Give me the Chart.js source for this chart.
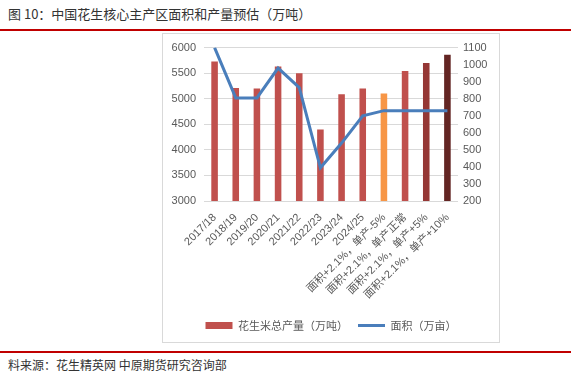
<!DOCTYPE html>
<html>
<head>
<meta charset="utf-8">
<script src="https://cdn.jsdelivr.net/npm/chart.js@4"></script>
<style>
  body { margin: 0; width: 571px; height: 377px; background: #fff; position: relative; overflow: hidden;
         font-family: "Noto Sans CJK SC", sans-serif; }
  .title { position: absolute; left: 8px; top: 4px; font-size: 13px; color: #333; }
  .rule { position: absolute; left: 0; width: 571px; height: 2px; background: #c00000; }
  .source { position: absolute; left: 8px; top: 356px; font-size: 12px; color: #333; }
  .box { position: absolute; left: 162px; top: 33px; width: 338px; height: 310px; border: 1px solid #d9d9d9; box-sizing: border-box; }
  .wrap { position: absolute; left: 162px; top: 33px; width: 338px; height: 310px; }
</style>
</head>
<body>
<div class="title">图 10：中国花生核心主产区面积和产量预估（万吨）</div>
<div class="rule" style="top:29px"></div>
<div class="box"></div>
<div class="wrap"><canvas id="c"></canvas></div>
<div class="rule" style="top:351px"></div>
<div class="source">料来源：花生精英网 中原期货研究咨询部</div>
<script>
// 类别与数据
const categories = ['2017/18', '2018/19', '2019/20', '2020/21', '2021/22', '2022/23', '2023/24', '2024/25',
    '面积+2.1%，单产-5%', '面积+2.1%，单产正常', '面积+2.1%，单产+5%', '面积+2.1%，单产+10%'];
const output = [5730, 5210, 5200, 5630, 5500, 4400, 5090, 5200, 5100, 5540, 5700, 5860];
const area = [1100, 805, 805, 980, 865, 395, 540, 700, 730, 730, 730, 730];
const barColors = ['#c0504d', '#c0504d', '#c0504d', '#c0504d', '#c0504d', '#c0504d', '#c0504d', '#c0504d',
    '#f79646', '#c0504d', '#953735', '#632523'];

const leftTicks = { min: 3000, max: 6000, step: 500 };
const rightTicks = { min: 200, max: 1100, step: 100 };

const tickFont = { family: 'Liberation Sans, Noto Sans CJK SC', size: 11 };
const plain = v => String(v);

new Chart(document.getElementById('c').getContext('2d'), {
    data: {
        labels: categories,
        datasets: [{
            type: 'line',
            label: '面积（万亩）',
            data: area,
            yAxisID: 'y1',
            borderColor: '#4a7ebb',
            backgroundColor: '#4a7ebb',
            borderWidth: 3,
            pointRadius: 0,
            tension: 0,
            pointStyle: 'line',
            order: 0
        }, {
            type: 'bar',
            label: '花生米总产量（万吨）',
            data: output,
            yAxisID: 'y',
            backgroundColor: barColors,
            categoryPercentage: 1,
            barPercentage: 0.31,
            pointStyle: 'rect',
            order: 1
        }]
    },
    options: {
        responsive: true,
        maintainAspectRatio: false,
        animation: false,
        layout: { padding: { top: 14, bottom: 2, left: 0, right: 0 } },
        plugins: {
            tooltip: { enabled: false },
            legend: {
                position: 'bottom',
                reverse: true,
                labels: {
                    usePointStyle: true,
                    pointStyleWidth: 27,
                    boxHeight: 7,
                    padding: 10,
                    color: '#595959',
                    font: { family: 'Noto Sans CJK SC', size: 11 }
                }
            }
        },
        scales: {
            x: {
                grid: { display: false },
                border: { display: false },
                ticks: { color: '#595959', font: tickFont, autoSkip: false, minRotation: 45, maxRotation: 45, padding: 2 },
                afterFit: s => { s.height = 109; }
            },
            y: {
                position: 'left',
                min: leftTicks.min, max: leftTicks.max,
                grid: { color: '#d9d9d9', drawTicks: false },
                border: { display: false },
                ticks: { stepSize: leftTicks.step, color: '#595959', font: tickFont, padding: 8, callback: plain },
                afterFit: s => { s.width = 42; }
            },
            y1: {
                position: 'right',
                min: rightTicks.min, max: rightTicks.max,
                grid: { display: false, drawTicks: false },
                border: { display: false },
                ticks: { stepSize: rightTicks.step, color: '#595959', font: tickFont, padding: 5, callback: plain },
                afterFit: s => { s.width = 42; }
            }
        }
    }
});
</script>
</body>
</html>
